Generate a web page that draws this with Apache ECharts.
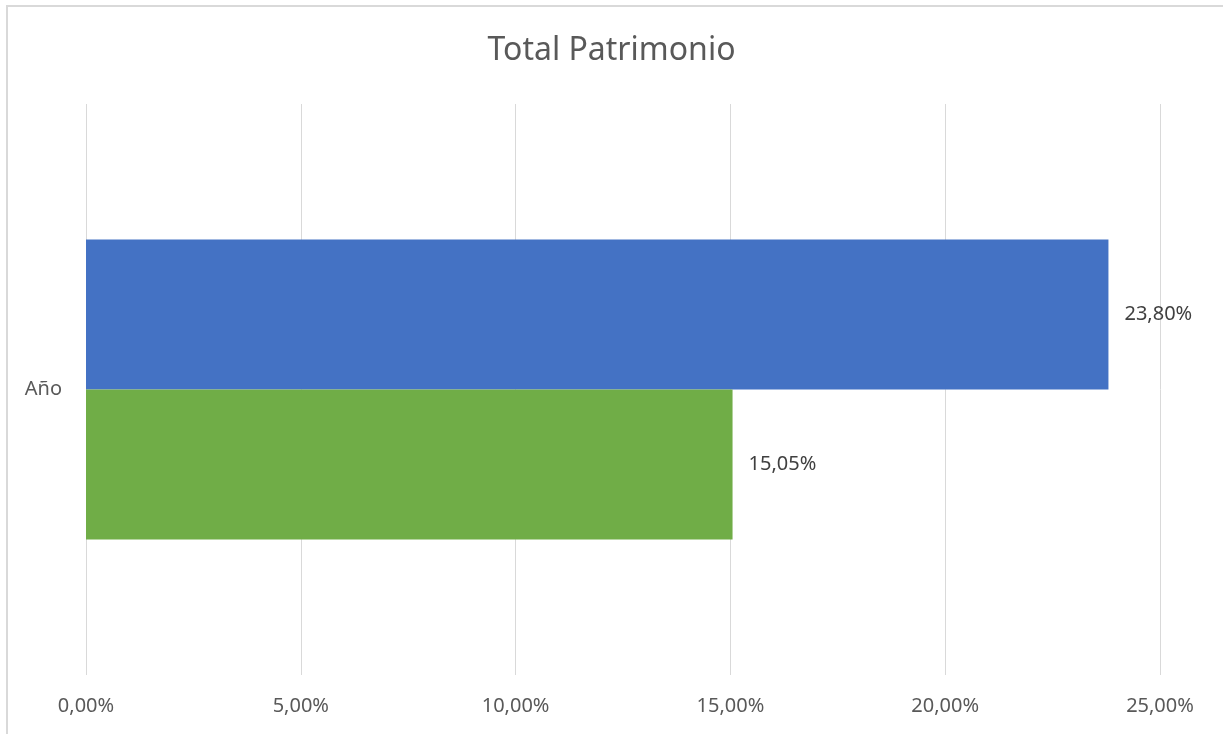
<!DOCTYPE html>
<html>
<head>
<meta charset="utf-8">
<script src="https://cdn.jsdelivr.net/npm/echarts@6/dist/echarts.min.js"></script>
<style>
  html, body { margin: 0; padding: 0; background: #fff; }
  #chart { width: 1223px; height: 734px; }
</style>
</head>
<body>
<div id="chart"></div>
<script>
// data
const categories = ["Año"];
const serieAzul = [23.80];
const serieVerde = [15.05];
const xTicks = [0, 5, 10, 15, 20, 25];

const fmt = v => v.toFixed(2).replace(".", ",") + "%";
const font = "'Noto Sans', 'Open Sans', sans-serif";

const chart = echarts.init(document.getElementById("chart"));
chart.setOption({
  animation: false,
  title: {
    text: "Total Patrimonio",
    left: "center",
    top: 30,
    textStyle: { fontFamily: font, fontSize: 32, fontWeight: "normal", color: "#595959" }
  },
  graphic: [{
    type: "rect",
    shape: { x: 7, y: 6, width: 1240, height: 760 },
    style: { fill: "none", stroke: "#d9d9d9", lineWidth: 2 },
    silent: true
  }],
  grid: { left: 86, right: 63, top: 104, bottom: 59 },
  xAxis: {
    type: "value",
    min: xTicks[0],
    max: xTicks[xTicks.length - 1],
    interval: 5,
    axisLine: { show: false },
    axisTick: { show: false },
    splitLine: { lineStyle: { color: "#d9d9d9", width: 1 } },
    axisLabel: {
      margin: 21,
      formatter: v => fmt(v),
      fontFamily: font, fontSize: 20, color: "#595959"
    }
  },
  yAxis: {
    type: "category",
    data: categories,
    axisLine: { show: false },
    axisTick: { show: false },
    axisLabel: { margin: 24, fontFamily: font, fontSize: 20, color: "#595959" }
  },
  series: [
    {
      type: "bar",
      data: serieAzul,
      barGap: "0%",
      barCategoryGap: "47.5%",
      itemStyle: { color: "#4472C4" },
      label: {
        show: true, position: "right", distance: 16,
        formatter: p => fmt(p.value),
        fontFamily: font, fontSize: 20, color: "#404040"
      }
    },
    {
      type: "bar",
      data: serieVerde,
      barGap: "0%",
      barCategoryGap: "47.5%",
      itemStyle: { color: "#70AD47" },
      label: {
        show: true, position: "right", distance: 16,
        formatter: p => fmt(p.value),
        fontFamily: font, fontSize: 20, color: "#404040"
      }
    }
  ]
});
</script>
</body>
</html>
